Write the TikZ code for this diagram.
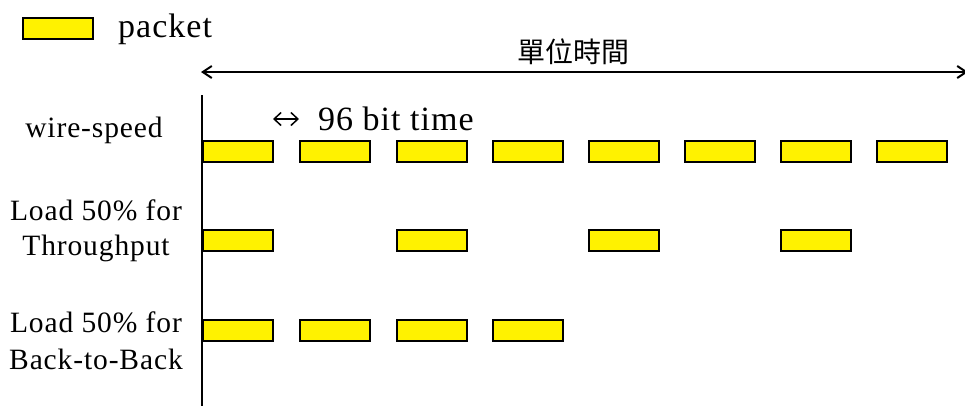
\documentclass[tikz,border=0pt]{standalone}
\usepackage{fontspec}
\setmainfont{Liberation Serif}[LetterSpace=3]
\newfontfamily\cjkfont{Noto Sans CJK TC}
\usetikzlibrary{arrows.meta}
\begin{document}
\begin{tikzpicture}[x=1pt,y=-1pt,
  pkt/.style={draw=black,fill=yellow,line width=2pt,minimum width=70pt,minimum height=21pt,inner sep=0pt},
  lbl/.style={font=\fontsize{29.5}{34}\selectfont,anchor=base,inner sep=0pt},
  barb/.style={line width=2pt,{Straight Barb[length=9pt,width=12pt]}-{Straight Barb[length=9pt,width=12pt]}}]
\useasboundingbox (0,0) rectangle (965,405);
% legend
\node[pkt] (leg) at (58,28.5) {};
\node[font=\fontsize{34}{38}\selectfont,anchor=base west,inner sep=0pt] (legtxt) at (118,37) {packet};
% time span arrow
\coordinate (ta) at (201,72);
\coordinate (tb) at (968,72);
\draw[barb] (ta) -- (tb);
\node[font=\cjkfont\fontsize{28}{30}\selectfont,inner sep=0pt] (unit) at (573,52) {單位時間};
% axis
\coordinate (ax1) at (202,95);
\coordinate (ax2) at (202,410);
\draw[line width=2pt] (ax1) -- (ax2);
% gap arrow
\coordinate (ga) at (273,119);
\coordinate (gb) at (299,119);
\draw[line width=1.5pt,{Straight Barb[length=7pt,width=13pt]}-{Straight Barb[length=7pt,width=13pt]}] (ga) -- (gb);
\node[font=\fontsize{34}{38}\selectfont,anchor=base west,inner sep=0pt] (gap) at (318,130) {96 bit time};
% labels
\node[lbl] (l1) at (94,137) {wire-speed};
\node[lbl] (l2a) at (96,220) {Load 50\% for};
\node[lbl] (l2b) at (96,255) {Throughput};
\node[lbl] (l3a) at (96,332) {Load 50\% for};
\node[lbl] (l3b) at (96,369) {Back-to-Back};
% row 1
\foreach \x [count=\i] in {238,335,432,528,624,720,816,912}
  \node[pkt] (r1p\i) at (\x,151) {};
% row 2
\foreach \x [count=\i] in {238,432,624,816}
  \node[pkt] (r2p\i) at (\x,240) {};
% row 3
\foreach \x [count=\i] in {238,335,432,528}
  \node[pkt] (r3p\i) at (\x,330) {};
\end{tikzpicture}
\end{document}
